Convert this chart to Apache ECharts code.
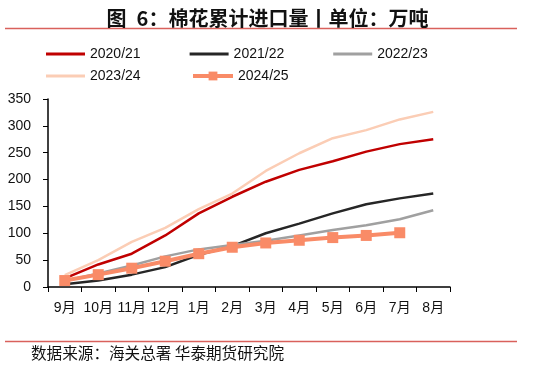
<!DOCTYPE html>
<html><head><meta charset="utf-8">
<script src="https://cdn.jsdelivr.net/npm/echarts@6/dist/echarts.min.js"></script>
<style>html,body{margin:0;padding:0;background:#fff}#c{width:535px;height:367px}</style>
</head><body><div id="c"></div>
<script>
const categories = ['9月','10月','11月','12月','1月','2月','3月','4月','5月','6月','7月','8月'];
const s2020 = [16, 42, 62, 96, 137, 168, 196, 218, 234, 252, 266, 275];
const s2021 = [5, 12, 23, 37, 60, 76, 100, 118, 137, 154, 165, 174];
const s2022 = [11, 25, 40, 57, 70, 78, 86, 96, 106, 115, 126, 143];
const s2023 = [22, 50, 84, 110, 145, 174, 216, 249, 277, 292, 312, 326];
const s2024 = [12, 23, 35, 48, 62, 74, 82, 87, 92, 96, 101];
const yTicks = [0, 50, 100, 150, 200, 250, 300, 350];

const font = '"Liberation Sans", "Noto Sans CJK SC", sans-serif';
const chart = echarts.init(document.getElementById('c'));
const lineS = (name, data, color, w) => ({
  name, type: 'line', data, symbol: 'none', showSymbol: false,
  lineStyle: { color, width: w }, itemStyle: { color }, z: 2
});
const legText = { fontFamily: font, fontSize: 14, color: '#111' };
chart.setOption({
  animation: false,
  title: {
    text: '图\u20026：棉花累计进口量丨单位：万吨', left: 'center', top: 3,
    textStyle: { fontFamily: '"Noto Sans CJK SC", sans-serif', fontSize: 20, fontWeight: 'bold', color: '#111' }
  },
  graphic: [
    { type: 'line', shape: { x1: 5, y1: 28.5, x2: 517, y2: 28.5 }, style: { stroke: '#D9615C', lineWidth: 1.5 } },
    { type: 'line', shape: { x1: 5, y1: 341.5, x2: 517, y2: 341.5 }, style: { stroke: '#D9615C', lineWidth: 1.5 } },
    { type: 'text', left: 31, top: 345, style: { text: '数据来源：海关总署 华泰期货研究院', fontFamily: '"Noto Sans CJK SC", sans-serif', fontSize: 15.6, fill: '#111' } }
  ],
  legend: [
    { data: ['2020/21', '2021/22', '2022/23'], icon: 'rect', left: 41, top: 42, itemWidth: 39, itemHeight: 3, itemGap: 49, textStyle: legText },
    { data: ['2023/24'], icon: 'rect', left: 41, top: 64, itemWidth: 39, itemHeight: 3, itemGap: 49, textStyle: legText },
    { data: ['2024/25'], left: 186, top: 64, itemWidth: 40, itemHeight: 11, textStyle: legText,
      lineStyle: { width: 4 } }
  ],
  grid: { left: 48, right: 85, top: 99, bottom: 80 },
  xAxis: {
    type: 'category', data: categories, boundaryGap: true,
    axisLine: { lineStyle: { color: '#000', width: 1.5 } },
    axisTick: { show: true, length: 5, lineStyle: { color: '#000' } },
    axisLabel: { fontFamily: font, fontSize: 14, color: '#111', margin: 14, interval: 0 }
  },
  yAxis: {
    type: 'value', min: 0, max: 350, interval: 50,
    axisLine: { show: true, lineStyle: { color: '#000', width: 1.5 } },
    axisTick: { show: true, length: 5, lineStyle: { color: '#000' } },
    splitLine: { show: false },
    axisLabel: { fontFamily: font, fontSize: 14, color: '#111', margin: 17,
      formatter: v => yTicks.includes(v) ? String(v) : '' }
  },
  series: [
    lineS('2020/21', s2020, '#C00000', 2.5),
    lineS('2021/22', s2021, '#262626', 2.5),
    lineS('2022/23', s2022, '#A0A0A0', 2.5),
    lineS('2023/24', s2023, '#FBCDB5', 2.5),
    { name: '2024/25', type: 'line', data: s2024, symbol: 'rect', symbolSize: 11, showSymbol: true,
      lineStyle: { color: '#F98B67', width: 4 }, itemStyle: { color: '#F98B67' }, z: 3 }
  ]
});
</script></body></html>
